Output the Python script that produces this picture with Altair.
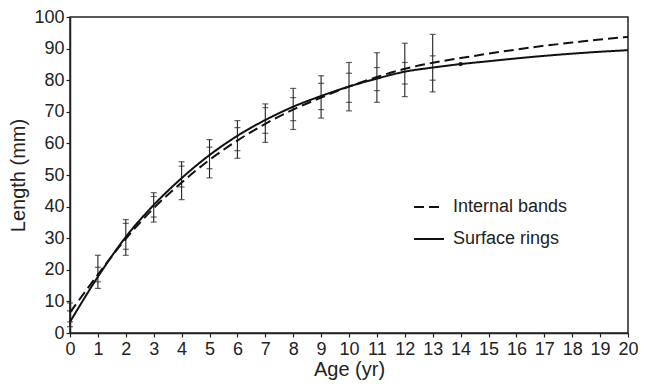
import altair as alt
import pandas as pd

ages = list(range(0, 21))
surface_rings = [3.5, 17.8, 30.4, 40.5, 49.0, 56.3, 62.4, 67.4, 71.6, 75.0, 78.0,
                 80.5, 82.7, 84.0, 85.1, 86.0, 86.9, 87.7, 88.4, 89.0, 89.5]
internal_bands = [6.5, 18.5, 29.8, 39.5, 47.6, 54.8, 60.9, 66.2, 70.7, 74.5, 78.0,
                  81.0, 83.6, 85.5, 87.0, 88.4, 89.7, 90.9, 91.9, 92.9, 93.7]

bar_ages = [0, 1, 2, 3, 4, 5, 6, 7, 8, 9, 10, 11, 12, 13]
outer_low = [2.0, 14.1, 24.6, 35.1, 42.2, 49.1, 55.3, 60.3, 64.4, 68.0, 70.3, 73.0, 74.8, 76.3]
outer_high = [9.5, 24.6, 35.9, 44.4, 54.2, 61.2, 67.2, 72.5, 77.4, 81.4, 85.6, 88.7, 91.7, 94.5]
inner_low = [3.5, 16.2, 26.5, 36.7, 46.2, 52.0, 57.7, 63.2, 67.2, 70.7, 73.0, 76.7, 78.8, 80.0]
inner_high = [7.0, 20.8, 34.7, 43.2, 52.8, 58.8, 65.0, 71.3, 74.5, 79.0, 82.2, 84.0, 85.6, 87.7]

point_age = [14]
point_len = [85.1]

x_ticks = list(range(0, 21))
y_ticks = list(range(0, 101, 10))

series_names = ["Internal bands", "Surface rings"]

curves = pd.DataFrame({
    "age": ages * 2,
    "length": internal_bands + surface_rings,
    "series": [series_names[0]] * len(ages) + [series_names[1]] * len(ages),
})
bars = pd.DataFrame({"age": bar_ages, "length": outer_low, "hi": outer_high})
caps = pd.DataFrame({
    "age": bar_ages * 4,
    "length": outer_low + outer_high + inner_low + inner_high,
})
pt = pd.DataFrame({"age": point_age, "length": point_len})

font = "Liberation Sans"
xscale = alt.Scale(domain=[0, 20], nice=False, zero=False)
yscale = alt.Scale(domain=[0, 100], nice=False)

xax = alt.Axis(values=x_ticks, title="Age (yr)", labelOverlap=False, labelFlush=False,
               tickCount=21, labelPadding=3, titlePadding=1)
yax = alt.Axis(values=y_ticks, title="Length (mm)", labelOverlap=False, labelFlush=False,
               tickCount=11, labelPadding=2, titlePadding=5)

X = alt.X("age:Q", scale=xscale, axis=xax)
Y = alt.Y("length:Q", scale=yscale, axis=yax)

lines = alt.Chart(curves).mark_line(interpolate="monotone", strokeWidth=2, color="#111").encode(
    x=X, y=Y,
    strokeDash=alt.StrokeDash("series:N",
        scale=alt.Scale(domain=series_names, range=[[10, 5], [1, 0]]),
        legend=alt.Legend(title=None, orient="none", legendX=343, legendY=174,
                          symbolType="stroke", symbolSize=900, symbolStrokeWidth=2,
                          symbolStrokeColor="#111", labelFontSize=18, labelFont=font,
                          labelColor="#222", labelOffset=8, rowPadding=7)),
    detail="series:N",
)

err = alt.Chart(bars).mark_rule(color="#222", strokeWidth=1.1).encode(
    x=X, y=Y, y2="hi:Q")
capm = alt.Chart(caps).mark_tick(color="#222", thickness=1.2, size=6, orient="horizontal").encode(
    x=X, y=Y)
ptm = alt.Chart(pt).mark_point(filled=True, color="#111", size=18, opacity=1).encode(
    x=X, y=Y)

chart = alt.layer(err, capm, lines, ptm).properties(
    width=558, height=316,
    autosize=alt.AutoSizeParams(type="none"),
    padding={"left": 62, "top": 9, "right": 10, "bottom": 47},
).configure(background="white").configure_view(
    stroke="#222", strokeWidth=1.5
).configure_axis(
    grid=False, labelFontSize=18, titleFontSize=20, labelFont=font, titleFont=font,
    labelColor="#222", titleColor="#222", tickSize=4, titleFontWeight="normal",
    domainColor="#222", tickColor="#222", domainWidth=1.5, tickWidth=1.2,
)

chart.save("out.html", embed_options={"renderer": "svg", "actions": False})
